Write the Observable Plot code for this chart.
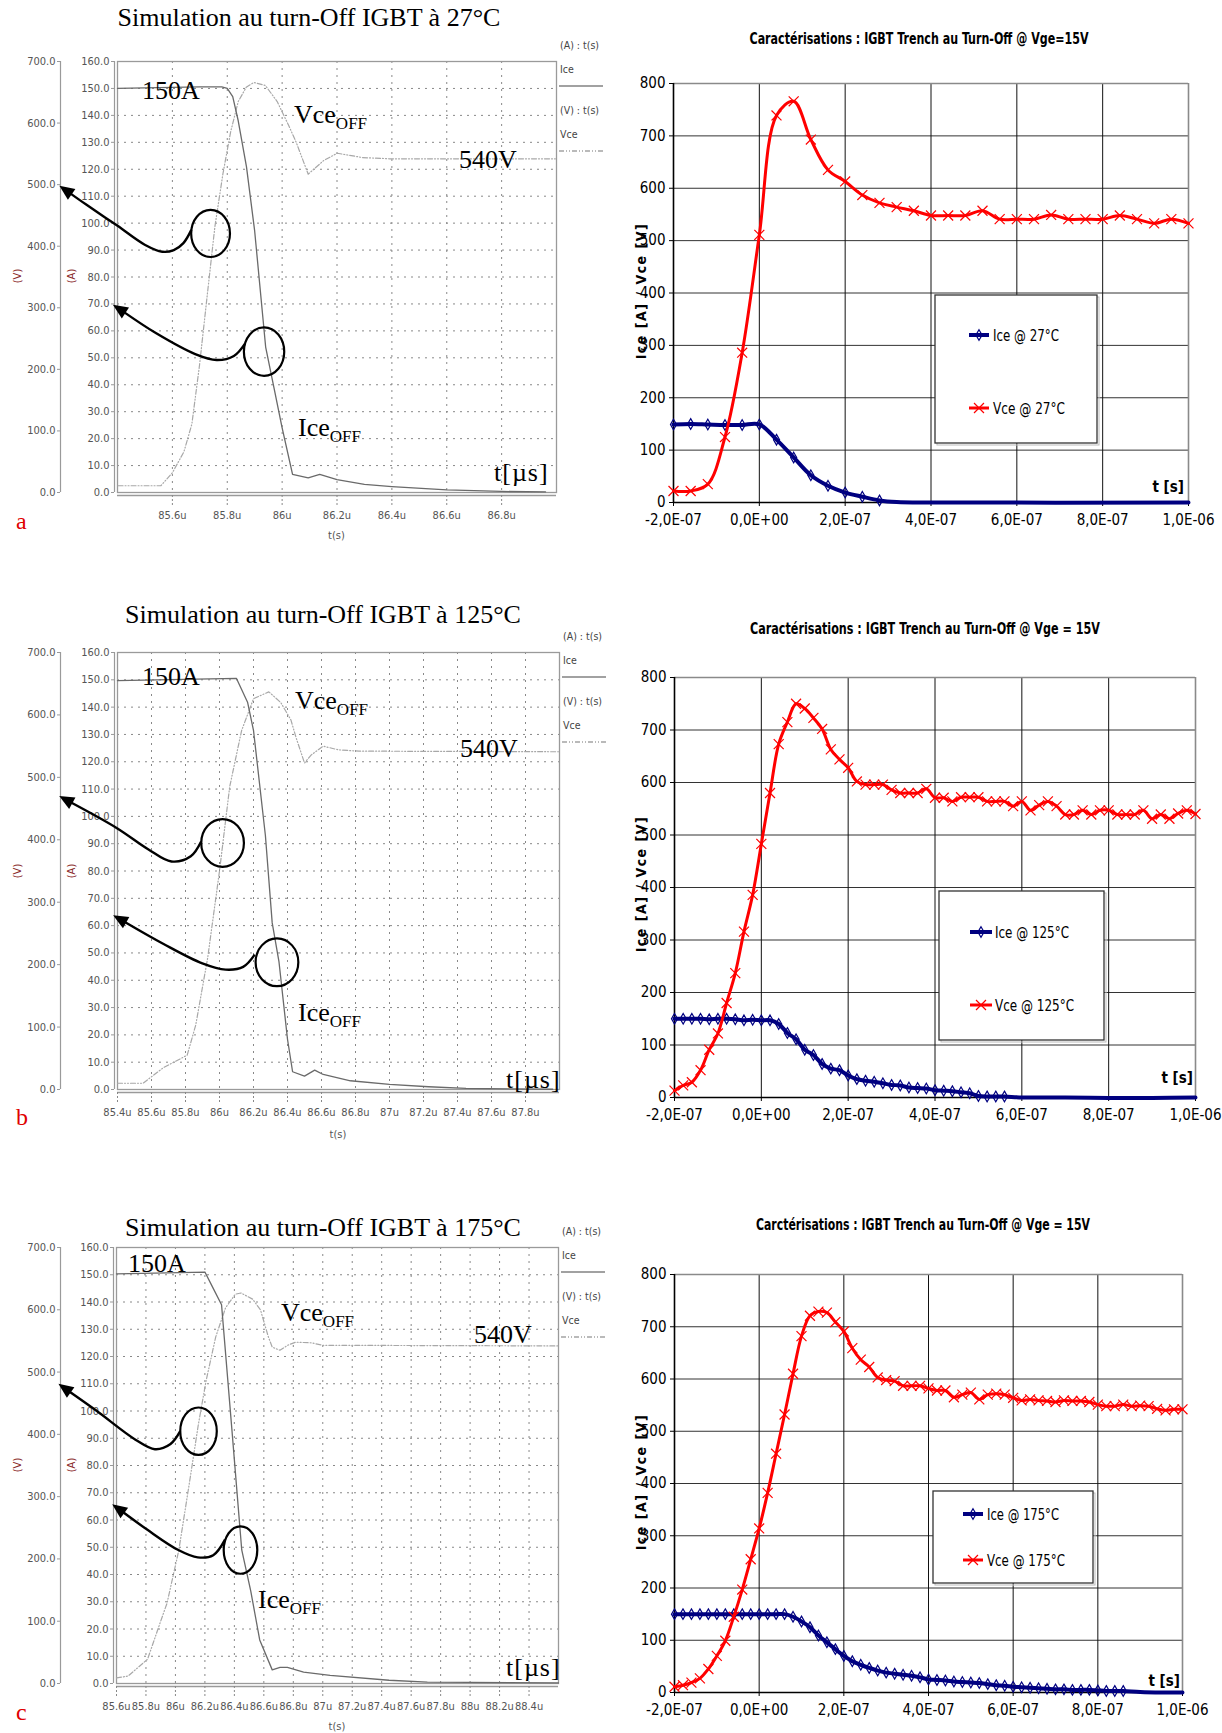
<!DOCTYPE html>
<html><head><meta charset="utf-8">
<script src="https://cdn.jsdelivr.net/npm/d3@7"></script>
<script src="https://cdn.jsdelivr.net/npm/@observablehq/plot@0.6"></script>
<style>
body{margin:0;background:#fff;}
#page{position:relative;width:1222px;height:1733px;overflow:hidden;background:#fff;}
.panel{position:absolute;}
#overlay{position:absolute;left:0;top:0;pointer-events:none;}
</style></head><body><div id="page"></div>
<script>
// ---------------- DATA ----------------
// Simulation panels (time in µs, Ice in A, Vce in V)
const simA_ice_t = [85.4, 85.7, 85.78, 85.8, 85.82, 85.84, 85.87, 85.9, 85.94, 85.97, 86.0, 86.038, 86.095, 86.137, 86.2, 86.3, 86.4, 86.6, 86.8, 86.96];
const simA_ice   = [150, 150.6, 150.6, 150, 147, 138, 121, 97, 54, 39, 24, 6.7, 5.4, 6.7, 4.8, 3.0, 2.2, 1.0, 0.4, 0.2];
const simA_vce_t = [85.402, 85.558, 85.6, 85.642, 85.671, 85.699, 85.727, 85.755, 85.784, 85.812, 85.84, 85.869, 85.897, 85.939, 85.982, 86.024, 86.052, 86.095, 86.151, 86.201, 86.293, 86.392, 86.996];
const simA_vce   = [11, 11, 32, 66, 111, 207, 320, 432, 517, 585, 635, 658, 666, 661, 635, 596, 568, 517, 539, 551, 544, 542, 542];

const simB_ice_t = [85.4, 86.1, 86.165, 86.2, 86.27, 86.31, 86.35, 86.4, 86.43, 86.5, 86.56, 86.61, 86.77, 87.0, 87.23, 87.45, 87.96];
const simB_ice   = [149.7, 150.5, 141.8, 131.5, 93, 61, 46.7, 18.4, 6.5, 4.9, 7.1, 5.5, 3.2, 1.9, 1.0, 0.4, 0.1];
const simB_vce_t = [85.4, 85.55, 85.67, 85.81, 85.86, 85.93, 86.0, 86.06, 86.13, 86.2, 86.29, 86.36, 86.42, 86.45, 86.5, 86.54, 86.61, 86.7, 86.82, 88.0];
const simB_vce   = [10, 10, 35, 55, 103, 210, 350, 485, 575, 626, 637, 620, 592, 564, 523, 536, 550, 544, 542, 541];

const simC_ice_t = [85.6, 86.2, 86.247, 86.313, 86.382, 86.45, 86.511, 86.572, 86.657, 86.71, 86.76, 86.87, 87.05, 87.45, 87.71, 88.6];
const simC_ice   = [150.3, 151, 146, 139, 94, 49, 34, 16, 5, 5.9, 5.9, 4.2, 3.0, 1.2, 0.5, 0.2];
const simC_vce_t = [85.6, 85.679, 85.811, 85.891, 85.943, 86.023, 86.102, 86.155, 86.208, 86.274, 86.34, 86.406, 86.445, 86.524, 86.577, 86.63, 86.657, 86.709, 86.762, 86.815, 86.921, 87.0, 88.598];
const simC_vce   = [9, 12, 39, 94, 129, 214, 333, 415, 486, 557, 603, 625, 627, 617, 600, 557, 540, 535, 543, 548, 547, 543, 542];

const simTicksA = [85.6, 85.8, 86.0, 86.2, 86.4, 86.6, 86.8];
const simTickLabelsA = ["85.6u", "85.8u", "86u", "86.2u", "86.4u", "86.6u", "86.8u"];
const simTicksB = [85.4, 85.6, 85.8, 86.0, 86.2, 86.4, 86.6, 86.8, 87.0, 87.2, 87.4, 87.6, 87.8];
const simTickLabelsB = ["85.4u", "85.6u", "85.8u", "86u", "86.2u", "86.4u", "86.6u", "86.8u", "87u", "87.2u", "87.4u", "87.6u", "87.8u"];
const simTicksC = [85.6, 85.8, 86.0, 86.2, 86.4, 86.6, 86.8, 87.0, 87.2, 87.4, 87.6, 87.8, 88.0, 88.2, 88.4];
const simTickLabelsC = ["85.6u", "85.8u", "86u", "86.2u", "86.4u", "86.6u", "86.8u", "87u", "87.2u", "87.4u", "87.6u", "87.8u", "88u", "88.2u", "88.4u"];

const aTicks = [0, 10, 20, 30, 40, 50, 60, 70, 80, 90, 100, 110, 120, 130, 140, 150, 160];
const aTickLabels = ["0.0", "10.0", "20.0", "30.0", "40.0", "50.0", "60.0", "70.0", "80.0", "90.0", "100.0", "110.0", "120.0", "130.0", "140.0", "150.0", "160.0"];
const vTicks = [0, 100, 200, 300, 400, 500, 600, 700];
const vTickLabels = ["0.0", "100.0", "200.0", "300.0", "400.0", "500.0", "600.0", "700.0"];

// Annotation shapes in data units (µs, A): ellipses [t, A, half-width µs, half-height A]; arrow paths end at the tip
const annA_ellipses = [[85.741, 96.0, 0.0707, 8.76], [85.936, 52.1, 0.0735, 9.0]];
const annA_arrows = [
  [[85.671, 97.3], [85.642, 92.4], [85.607, 89.8], [85.565, 89.2], [85.501, 91.8], [85.402, 98.8], [85.289, 106.6], [85.190, 113.7]],
  [[85.866, 55.0], [85.826, 50.5], [85.763, 49.0], [85.685, 51.2], [85.543, 58.9], [85.385, 69.5]]
];
const annB_ellipses = [[86.021, 90.1, 0.1256, 8.74], [86.341, 46.4, 0.1256, 8.74]];
const annB_arrows = [
  [[85.895, 90.6], [85.834, 85.2], [85.720, 83.3], [85.583, 87.8], [85.4, 95.5], [85.06, 107.3]],
  [[86.21, 49.2], [86.142, 44.7], [86.039, 43.7], [85.902, 46.0], [85.674, 53.1], [85.377, 63.6]]
];
const annC_ellipses = [[86.16, 92.4, 0.124, 8.7], [86.445, 48.8, 0.114, 8.7]];
const annC_arrows = [
  [[86.036, 92.4], [85.970, 87.7], [85.864, 85.8], [85.732, 89.3], [85.468, 99.9], [85.209, 109.8]],
  [[86.34, 52.6], [86.26, 46.9], [86.155, 46.1], [86.023, 48.8], [85.811, 56.3], [85.574, 65.6]]
];

// Measurement panels (time in ns, values in A / V)
const exT_coarse = [-200, -160, -120, -80, -40, 0, 40, 80, 120, 160, 200, 240, 280, 320, 360, 400, 440, 480, 520, 560, 600, 640, 680, 720, 760, 800, 840, 880, 920, 960, 1000];
const exT_fine = [-200, -180, -160, -140, -120, -100, -80, -60, -40, -20, 0, 20, 40, 60, 80, 100, 120, 140, 160, 180, 200, 220, 240, 260, 280, 300, 320, 340, 360, 380, 400, 420, 440, 460, 480, 500, 520, 540, 560, 580, 600, 620, 640, 660, 680, 700, 720, 740, 760, 780, 800, 820, 840, 860, 880, 900, 920, 940, 960, 980, 1000];

const vce27 = [22, 22, 35, 125, 286, 511, 739, 766, 693, 635, 613, 587, 572, 564, 557, 548, 548, 548, 557, 541, 541, 541, 549, 541, 541, 541, 548, 541, 533, 541, 533];
const ice27_t = [-200, -160, -120, -80, -40, 0, 40, 80, 120, 160, 200, 240, 280];
const ice27 = [149, 150, 149, 148, 148, 149, 120, 86, 52, 32, 19, 11, 4];
const ice27_tail_t = [320, 400, 1000];
const ice27_tail = [1, 0, 0];

const vce125 = [13, 23, 29, 52, 91, 122, 180, 237, 316, 386, 483, 580, 673, 715, 750, 741, 723, 702, 663, 644, 628, 602, 596, 596, 596, 586, 580, 580, 580, 588, 571, 571, 564, 572, 572, 572, 564, 564, 564, 555, 564, 547, 557, 564, 555, 539, 539, 547, 539, 547, 547, 539, 539, 539, 547, 531, 539, 531, 541, 547, 540];
const ice125_t = [-200, -180, -160, -140, -120, -100, -80, -60, -40, -20, 0, 20, 40, 60, 80, 100, 120, 140, 160, 180, 200, 220, 240, 260, 280, 300, 320, 340, 360, 380, 400, 420, 440, 460, 480, 500, 520, 540, 560];
const ice125 = [150, 150, 150, 150, 149, 150, 150, 149, 147, 148, 147, 147, 140, 123, 111, 91, 81, 64, 55, 52, 42, 35, 32, 30, 27, 24, 23, 19, 18, 17, 14, 13, 12, 10, 8, 3, 2, 2, 2];
const ice125_tail_t = [600, 700, 800, 900, 1000];
const ice125_tail = [0, 0, -1, -1, 0];

const vce175 = [11, 14, 19, 27, 45, 70, 99, 145, 197, 255, 314, 382, 457, 532, 610, 682, 721, 729, 727, 709, 691, 659, 637, 623, 603, 598, 596, 587, 587, 587, 582, 578, 578, 565, 570, 574, 561, 570, 572, 570, 564, 559, 561, 559, 558, 556, 559, 558, 558, 556, 551, 548, 548, 551, 548, 549, 548, 543, 540, 542, 542];
const ice175_t = [-200, -180, -160, -140, -120, -100, -80, -60, -40, -20, 0, 20, 40, 60, 80, 100, 120, 140, 160, 180, 200, 220, 240, 260, 280, 300, 320, 340, 360, 380, 400, 420, 440, 460, 480, 500, 520, 540, 560, 580, 600, 620, 640, 660, 680, 700, 720, 740, 760, 780, 800, 820, 840, 860];
const ice175 = [150, 150, 150, 150, 150, 150, 150, 150, 150, 150, 150, 150, 150, 150, 145, 136, 125, 109, 96, 83, 70, 60, 53, 47, 42, 38, 36, 34, 32, 29, 25, 24, 23, 21, 20, 19, 18, 16, 14, 13, 11, 10, 9, 8, 7, 6, 6, 5, 5, 5, 4, 3, 3, 3];
const ice175_tail_t = [900, 950, 1000];
const ice175_tail = [1, 0, 0];

const exXTicks = [-200, 0, 200, 400, 600, 800, 1000];
const exXTickLabels = ["-2,0E-07", "0,0E+00", "2,0E-07", "4,0E-07", "6,0E-07", "8,0E-07", "1,0E-06"];
const exYTicks = [0, 100, 200, 300, 400, 500, 600, 700, 800];

// ---------------- STYLE / LAYOUT ----------------
const NARROW = '"Liberation Sans Narrow", "Arial Narrow", "DejaVu Sans Condensed", "Roboto Condensed", sans-serif';
const SERIF = '"Liberation Serif", "Times New Roman", "DejaVu Serif", serif';
const page = document.getElementById("page");
const K = 160 / 700; // V -> A axis units

function place(svg, left, top, width) {
  const d = document.createElement("div");
  d.className = "panel";
  d.style.left = left + "px"; d.style.top = top + "px"; d.style.width = width + "px";
  d.appendChild(svg);
  page.appendChild(d);
}

function annotationMark(ellipses, arrows) {
  return (index, scales) => {
    const x = scales.x, y = scales.y;
    const g = d3.create("svg:g");
    for (const [t, a, rt, ra] of ellipses) {
      g.append("ellipse")
        .attr("cx", x(t)).attr("cy", y(a))
        .attr("rx", Math.abs(x(t + rt) - x(t))).attr("ry", Math.abs(y(a + ra) - y(a)))
        .attr("fill", "none").attr("stroke", "#000").attr("stroke-width", 2.2);
    }
    for (const path of arrows) {
      const p = path.map(([t, a]) => [x(t), y(a)]);
      const n = p.length;
      const [tx, ty] = p[n - 1], [px, py] = p[n - 2];
      const len = Math.hypot(tx - px, ty - py);
      const ux = (tx - px) / len, uy = (ty - py) / len;
      const hl = 15, hw = 6.5;
      const bx = tx - ux * hl, by = ty - uy * hl;
      const pts = p.slice(0, n - 1).concat([[bx + ux * 3, by + uy * 3]]);
      g.append("path").attr("d", d3.line().curve(d3.curveCatmullRom)(pts))
        .attr("fill", "none").attr("stroke", "#000").attr("stroke-width", 2.4);
      g.append("path")
        .attr("d", `M${tx},${ty}L${bx - uy * hw},${by + ux * hw}L${bx + uy * hw},${by - ux * hw}Z`)
        .attr("fill", "#000");
    }
    return g.node();
  };
}

function drawSim(L, ice_t, ice, vce_t, vce, ticks, tickLabels, ellipses, arrows) {
  const [x0, x1, y0, y1] = L.frame;
  const W = 612, top = y0 - 50, bottom = y1 + 55;
  const tickLab = new Map(ticks.map((t, i) => [t, tickLabels[i]]));
  const aLab = new Map(aTicks.map((t, i) => [t, aTickLabels[i]]));
  const vScaled = vTicks.map(v => v * K);
  const vLab = new Map(vScaled.map((t, i) => [t, vTickLabels[i]]));
  const svg = Plot.plot({
    width: W, height: bottom - top,
    marginLeft: x0, marginRight: W - x1, marginTop: y0 - top, marginBottom: bottom - y1,
    x: {domain: L.domain}, y: {domain: [0, 160]},
    style: {fontFamily: NARROW, fontSize: "11px", color: "#555", background: "transparent", overflow: "visible"},
    marks: [
      Plot.gridY(aTicks, {stroke: "#888", strokeOpacity: 1, strokeDasharray: "2,5"}),
      Plot.gridX(ticks, {stroke: "#888", strokeOpacity: 1, strokeDasharray: "2,5"}),
      Plot.frame({stroke: "#9a9a9a", strokeWidth: 1.3}),
      Plot.ruleY([0], {dy: 3, stroke: "#9a9a9a", strokeWidth: 1.3}),
      Plot.ruleX([L.domain[0]], {dx: -3, stroke: "#9a9a9a", strokeWidth: 1.2}),
      Plot.ruleX([L.domain[0]], {dx: L.vAxisX - x0, stroke: "#9a9a9a", strokeWidth: 1.2}),
      Plot.axisY(aTicks, {tickFormat: d => aLab.get(d), dx: -3, tickSize: 3, tickPadding: 2, stroke: "#999", fill: "#555", label: null}),
      Plot.axisY(vScaled, {tickFormat: d => vLab.get(d), dx: L.vAxisX - x0, tickSize: 3, tickPadding: 2, stroke: "#999", fill: "#555", label: null}),
      Plot.axisX(ticks, {tickFormat: d => tickLab.get(d), tickSize: 10, dy: 3, tickPadding: 6, stroke: "#888", strokeDasharray: "2,2", fill: "#555", label: null}),
      Plot.line(d3.zip(vce_t, vce), {x: d => d[0], y: d => d[1] * K, stroke: "#a8a8a8", strokeWidth: 1.2, strokeDasharray: "5,2,1,2,1,2"}),
      Plot.line(d3.zip(ice_t, ice), {x: d => d[0], y: d => d[1], stroke: "#6a6a6a", strokeWidth: 1.3}),
      annotationMark(ellipses, arrows)
    ]
  });
  place(svg, 0, top, W);
}

function drawExcel(L, vce_t, vce, ice_t, ice, tail_t, tail) {
  const [x0, x1, y0, y1] = L.frame;
  const left = 620, W = 602, top = y0 - 20, bottom = y1 + 40;
  const xLab = new Map(exXTicks.map((t, i) => [t, exXTickLabels[i]]));
  const vPts = d3.zip(vce_t, vce);
  const iPts = d3.zip(ice_t, ice);
  const iLine = iPts.concat(d3.zip(tail_t, tail));
  const svg = Plot.plot({
    width: W, height: bottom - top,
    marginLeft: x0 - left, marginRight: left + W - x1, marginTop: 20, marginBottom: 40,
    x: {domain: [-200, 1000]}, y: {domain: [0, 800]},
    style: {fontFamily: NARROW, fontSize: "15px", color: "#000", background: "transparent", overflow: "visible"},
    marks: [
      Plot.gridY(exYTicks, {stroke: "#333", strokeOpacity: 1, strokeWidth: 1}),
      Plot.gridX(exXTicks, {stroke: "#111", strokeOpacity: 1, strokeWidth: 1}),
      Plot.ruleX([1000], {stroke: "#8a8a8a", strokeWidth: 1.6}),
      Plot.ruleY([800], {stroke: "#8a8a8a", strokeWidth: 1.6}),
      Plot.ruleX([-200], {stroke: "#000", strokeWidth: 1.6}),
      Plot.ruleY([0], {stroke: "#000", strokeWidth: 1.6}),
      Plot.axisY(exYTicks, {tickSize: 4, tickPadding: 4, stroke: "#000", fill: "#000", label: null}),
      Plot.axisX(exXTicks, {tickSize: 4, tickPadding: 8, tickFormat: d => xLab.get(d), stroke: "#000", fill: "#000", label: null}),
      Plot.line(iLine, {x: d => d[0], y: d => d[1], stroke: "#000080", strokeWidth: 4, curve: "catmull-rom"}),
      Plot.dot(iPts, {x: d => d[0], y: d => d[1], symbol: "diamond", r: 3.2, stroke: "#000080", fill: "none", strokeWidth: 1.2}),
      Plot.line(vPts, {x: d => d[0], y: d => d[1], stroke: "#ff0000", strokeWidth: 3, curve: "catmull-rom"}),
      Plot.dot(vPts, {x: d => d[0], y: d => d[1], symbol: "times", r: 4.6, stroke: "#ff0000", strokeWidth: 1.2})
    ]
  });
  place(svg, left, top, W);
}

// ---------------- PANELS ----------------
const simLayouts = [
  {frame: [117, 556, 61, 492], vAxisX: 60, domain: [85.4, 87.0]},
  {frame: [117, 559, 652, 1089], vAxisX: 60, domain: [85.4, 88.0]},
  {frame: [116, 558, 1247, 1683], vAxisX: 60, domain: [85.6, 88.6]}
];
drawSim(simLayouts[0], simA_ice_t, simA_ice, simA_vce_t, simA_vce, simTicksA, simTickLabelsA, annA_ellipses, annA_arrows);
drawSim(simLayouts[1], simB_ice_t, simB_ice, simB_vce_t, simB_vce, simTicksB, simTickLabelsB, annB_ellipses, annB_arrows);
drawSim(simLayouts[2], simC_ice_t, simC_ice, simC_vce_t, simC_vce, simTicksC, simTickLabelsC, annC_ellipses, annC_arrows);

const exLayouts = [
  {frame: [673, 1188, 83, 502]},
  {frame: [674, 1195, 677, 1097]},
  {frame: [674, 1182, 1274, 1692]}
];
drawExcel(exLayouts[0], exT_coarse, vce27, ice27_t, ice27, ice27_tail_t, ice27_tail);
drawExcel(exLayouts[1], exT_fine, vce125, ice125_t, ice125, ice125_tail_t, ice125_tail);
drawExcel(exLayouts[2], exT_fine, vce175, ice175_t, ice175, ice175_tail_t, ice175_tail);

// ---------------- TEXT OVERLAY ----------------
const ov = d3.select(page).append("svg").attr("id", "overlay").attr("width", 1222).attr("height", 1733);
function T(x, y, s, o = {}) {
  const t = ov.append("text").attr("x", x).attr("y", y)
    .attr("font-family", o.family || NARROW).attr("font-size", o.size || 11)
    .attr("fill", o.fill || "#000").attr("text-anchor", o.anchor || "start");
  if (o.weight) t.attr("font-weight", o.weight);
  if (o.rotate) t.attr("transform", `rotate(-90,${x},${y})`);
  if (o.baseline) t.attr("dominant-baseline", o.baseline);
  if (o.ls) t.attr("letter-spacing", o.ls);
  if (o.len) t.attr("textLength", o.len).attr("lengthAdjust", "spacingAndGlyphs");
  t.text(s);
  return t;
}
function Tsub(x, y, main, sub) {
  const t = ov.append("text").attr("x", x).attr("y", y).attr("font-family", SERIF).attr("font-size", 26).attr("fill", "#000");
  t.append("tspan").text(main);
  t.append("tspan").attr("font-size", 17).attr("dy", 6).text(sub);
}

// Simulation titles & annotations
const simTitles = ["Simulation au turn-Off IGBT à 27°C", "Simulation au turn-Off IGBT à 125°C", "Simulation au turn-Off IGBT à 175°C"];
const simTitlePos = [[309, 26], [323, 623], [323, 1236]];
const simText = [
  {a150: [142, 99], vce: [294, 123], v540: [459, 168], ice: [298, 436], tus: [494, 481], letter: [16, 529], L: "a", vmid: 276, tsy: 539},
  {a150: [142, 685], vce: [295, 709], v540: [460, 757], ice: [298, 1021], tus: [506, 1088], letter: [16, 1125], L: "b", vmid: 871, tsy: 1138},
  {a150: [128, 1272], vce: [281, 1321], v540: [474, 1343], ice: [258, 1608], tus: [506, 1676], letter: [16, 1720], L: "c", vmid: 1465, tsy: 1730}
];
simText.forEach((s, i) => {
  const [x0, x1, y0, y1] = simLayouts[i].frame;
  T(simTitlePos[i][0], simTitlePos[i][1], simTitles[i], {family: SERIF, size: 26, anchor: "middle"});
  T(s.a150[0], s.a150[1], "150A", {family: SERIF, size: 26});
  Tsub(s.vce[0], s.vce[1], "Vce", "OFF");
  T(s.v540[0], s.v540[1], "540V", {family: SERIF, size: 26});
  Tsub(s.ice[0], s.ice[1], "Ice", "OFF");
  T(s.tus[0], s.tus[1], "t[µs]", {family: SERIF, size: 26, ls: 1});
  T(s.letter[0], s.letter[1], s.L, {family: SERIF, size: 24, fill: "#e00000"});
  T(17, s.vmid, "(V)", {size: 11, fill: "#8a2a2a", rotate: true, anchor: "middle", baseline: "central"});
  T(71, s.vmid, "(A)", {size: 11, fill: "#8a2a2a", rotate: true, anchor: "middle", baseline: "central"});
  T((x0 + x1) / 2, s.tsy, "t(s)", {size: 11, fill: "#555", anchor: "middle"});
  // right-hand legend of the simulator
  const lx = x1 + 4;
  T(lx, y0 - 16, "(A) : t(s)", {size: 10.5, fill: "#444", baseline: "central"});
  T(lx, y0 + 8, "Ice", {size: 10.5, fill: "#444", baseline: "central"});
  ov.append("line").attr("x1", x1 + 3).attr("x2", x1 + 47).attr("y1", y0 + 25).attr("y2", y0 + 25).attr("stroke", "#444").attr("stroke-width", 1.2);
  T(lx, y0 + 49, "(V) : t(s)", {size: 10.5, fill: "#444", baseline: "central"});
  T(lx, y0 + 73, "Vce", {size: 10.5, fill: "#444", baseline: "central"});
  ov.append("line").attr("x1", x1 + 3).attr("x2", x1 + 47).attr("y1", y0 + 90).attr("y2", y0 + 90).attr("stroke", "#777").attr("stroke-width", 1.2).attr("stroke-dasharray", "5,2,1,2,1,2");
});

// Measurement titles, labels, legends
const exTitles = ["Caractérisations : IGBT Trench au Turn-Off @ Vge=15V", "Caractérisations : IGBT Trench au Turn-Off @ Vge = 15V", "Carctérisations : IGBT Trench au Turn-Off @ Vge = 15V"];
const exTemps = ["27°C", "125°C", "175°C"];
const exText = [
  {title: [919, 44], tlen: 339, ylab: [641, 291], ts: [1184, 492], box: [935, 1097, 295, 443], rows: [335, 408], sample: [969, 989], tx: 993, lens: [66, 72]},
  {title: [925, 634], tlen: 350, ylab: [641, 884], ts: [1193, 1083], box: [939, 1104, 891, 1040], rows: [932, 1005], sample: [970, 992], tx: 995, lens: [74, 79]},
  {title: [923, 1230], tlen: 334, ylab: [641, 1482], ts: [1180, 1686], box: [933, 1093, 1491, 1583], rows: [1514, 1560], sample: [963, 983], tx: 987, lens: [72, 78]}
];
exText.forEach((e, i) => {
  T(e.title[0], e.title[1], exTitles[i], {size: 15, weight: "bold", anchor: "middle", len: e.tlen});
  T(e.ylab[0], e.ylab[1], "Ice [A] / Vce [V]", {size: 14, weight: "bold", anchor: "middle", rotate: true, baseline: "central", ls: 1.5});
  T(e.ts[0], e.ts[1], "t [s]", {size: 15, weight: "bold", anchor: "end"});
  const [bx0, bx1, by0, by1] = e.box;
  ov.append("rect").attr("x", bx0 + 2).attr("y", by0 + 2).attr("width", bx1 - bx0).attr("height", by1 - by0).attr("fill", "none").attr("stroke", "#bbb").attr("stroke-width", 1);
  ov.append("rect").attr("x", bx0).attr("y", by0).attr("width", bx1 - bx0).attr("height", by1 - by0).attr("fill", "#fff").attr("stroke", "#333").attr("stroke-width", 1.3);
  const [s0, s1] = e.sample, sm = (s0 + s1) / 2;
  // Ice row
  ov.append("line").attr("x1", s0).attr("x2", s1).attr("y1", e.rows[0]).attr("y2", e.rows[0]).attr("stroke", "#000080").attr("stroke-width", 4);
  ov.append("path").attr("d", d3.symbol(d3.symbolDiamond, Math.PI * 3.2 * 3.2)()).attr("transform", `translate(${sm},${e.rows[0]})`).attr("fill", "none").attr("stroke", "#000080").attr("stroke-width", 1.2);
  T(e.tx, e.rows[0], "Ice @ " + exTemps[i], {size: 16, baseline: "central", len: e.lens[0]});
  // Vce row
  ov.append("line").attr("x1", s0).attr("x2", s1).attr("y1", e.rows[1]).attr("y2", e.rows[1]).attr("stroke", "#ff0000").attr("stroke-width", 3);
  ov.append("path").attr("d", d3.symbol(d3.symbolTimes, Math.PI * 4.6 * 4.6)()).attr("transform", `translate(${sm},${e.rows[1]})`).attr("fill", "none").attr("stroke", "#ff0000").attr("stroke-width", 1.2);
  T(e.tx, e.rows[1], "Vce @ " + exTemps[i], {size: 16, baseline: "central", len: e.lens[1]});
});
</script></body></html>
